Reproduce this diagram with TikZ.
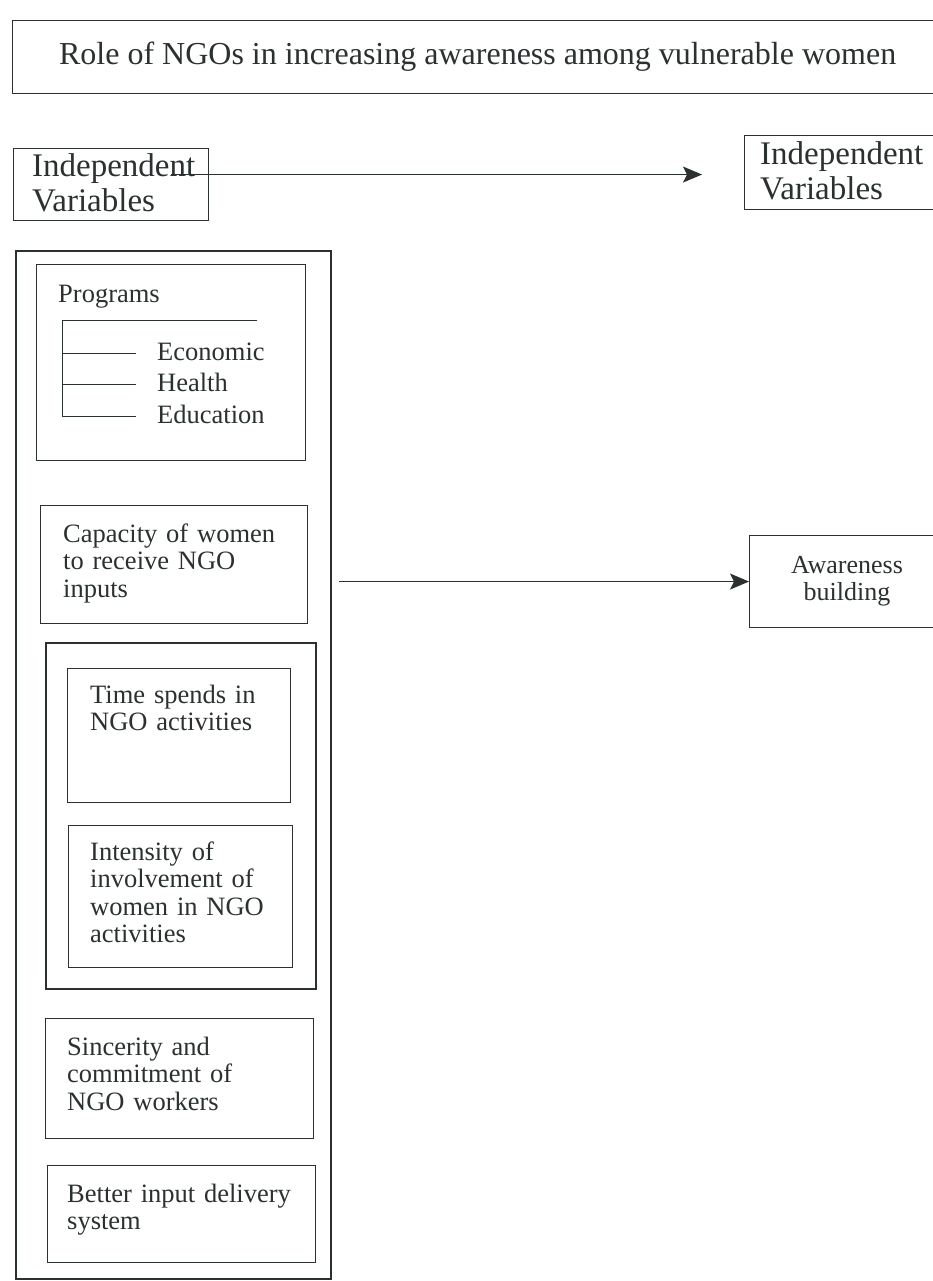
\documentclass[tikz,border=0pt]{standalone}
\usepackage{fontspec}
\setmainfont{Liberation Serif}
\usepackage{tikz}
\usetikzlibrary{arrows.meta}
\definecolor{ink}{rgb}{0.17,0.19,0.19}

\begin{document}
\begin{tikzpicture}[x=1pt,y=-1pt,
  box/.style={draw=ink,line width=1.1pt,inner sep=0pt,anchor=north west},
  grp/.style={box,line width=1.6pt},
  txt/.style={anchor=base west,inner sep=0pt,text width=265pt,align=left,text=ink,font=\fontsize{26.5}{27.5}\selectfont},
  head/.style={txt,font=\fontsize{33}{34.5}\selectfont},
  arr/.style={draw=ink,line width=1.1pt,-{Stealth[length=19pt,width=16pt,inset=4pt]}}]
\useasboundingbox[fill=white] (0,0) rectangle (933,1281);
\clip (0,0) rectangle (933,1281);
\node[box,line width=1.3pt,minimum width=930pt,minimum height=73pt,text=ink,font=\fontsize{32}{36}\selectfont] (title) at (12,20) {Role of NGOs in increasing awareness among vulnerable women};
\node[box,minimum width=195pt,minimum height=72pt] (ivl) at (13,148) {};
\node[head] (ivltext) at (32,177) {Independent\\Variables};
\node[box,minimum width=200pt,minimum height=74pt] (ivr) at (744,135) {};
\node[head] (ivrtext) at (760,165) {Independent\\Variables};
\draw[arr] ([xshift=-38pt,yshift=-2pt]ivl.east |- ivr.west) -- ([xshift=-42pt,yshift=-2pt]ivr.west);
\node[grp,minimum width=315pt,minimum height=1028pt] (outer) at (15,250) {};
\node[box,minimum width=269pt,minimum height=196pt] (prog) at (36,264) {};
\node[txt] (progtext) at (58,302) {Programs};
\coordinate (fork) at (62,320);
\draw[ink,line width=1pt] (fork) -- +(195,0);
\draw[ink,line width=1pt] (fork) -- (62,416);
\foreach \y/\lbl in {353/Economic,384/Health,416/Education}{
  \draw[ink,line width=1pt] (62,\y) -- (136,\y);
  \node[txt] at (157,\y+7) {\lbl};
}
\node[box,minimum width=267pt,minimum height=118pt] (cap) at (40,505) {};
\node[txt] (captext) at (63,542) {Capacity of women\\to receive NGO\\inputs};
\node[grp,minimum width=270pt,minimum height=346pt] (inv) at (45,642) {};
\node[box,minimum width=223pt,minimum height=134pt] (time) at (67,668) {};
\node[txt] (timetext) at (90,703) {Time spends in\\NGO activities};
\node[box,minimum width=224pt,minimum height=142pt] (intens) at (68,825) {};
\node[txt] (intenstext) at (90,860) {Intensity of\\involvement of\\women in NGO\\activities};
\node[box,minimum width=268pt,minimum height=120pt] (sinc) at (45,1018) {};
\node[txt] (sinctext) at (67,1055) {Sincerity and\\commitment of\\NGO workers};
\node[box,minimum width=268pt,minimum height=97pt] (deliv) at (47,1165) {};
\node[txt] (delivtext) at (67,1202) {Better input delivery\\system};
\node[box,minimum width=195pt,minimum height=92pt,align=center,text=ink,font=\fontsize{26}{27}\selectfont] (aw) at (749,535) {Awareness\\building};
\draw[arr] ([xshift=7pt]outer.east |- aw.west) -- (aw.west);
\end{tikzpicture}
\end{document}
